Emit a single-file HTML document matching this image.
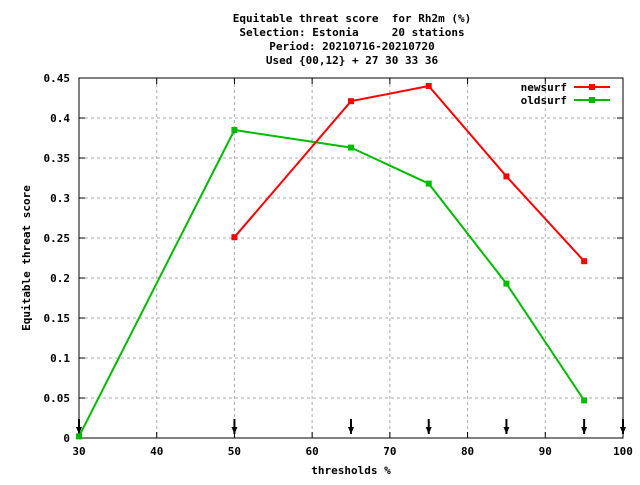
<!DOCTYPE html>
<html><head><meta charset="utf-8"><style>
html,body{margin:0;padding:0;background:#fff;}
svg text{font-family:"DejaVu Sans Mono","Liberation Mono",monospace;font-size:11px;font-weight:bold;fill:#000;white-space:pre;}
</style></head><body>
<svg id="chart" width="640" height="480" xmlns="http://www.w3.org/2000/svg" xml:space="preserve">
<g>
<text x="352" y="22" text-anchor="middle">Equitable threat score  for Rh2m (%)</text>
<text x="352" y="36" text-anchor="middle">Selection: Estonia     20 stations</text>
<text x="352" y="50" text-anchor="middle">Period: 20210716-20210720</text>
<text x="352" y="64" text-anchor="middle">Used {00,12} + 27 30 33 36</text>
</g>
<g id="grid"></g>
<g id="axes"></g>
<g id="series"></g>
<text transform="translate(30,258) rotate(-90)" text-anchor="middle">Equitable threat score</text>
<text x="351" y="474" text-anchor="middle">thresholds %</text>
<g>
<g><text x="567" y="91" text-anchor="end">newsurf</text><line x1="574" y1="87" x2="610" y2="87" stroke="#f00" stroke-width="2"/><rect x="589" y="84" width="6" height="6" fill="#f00"/></g>
<g><text x="567" y="104" text-anchor="end">oldsurf</text><line x1="574" y1="100" x2="610" y2="100" stroke="#0b0" stroke-width="2"/><rect x="589" y="97" width="6" height="6" fill="#0b0"/></g>
</g>
</svg>
<script>
const xTicks=[30,40,50,60,70,80,90,100];
const yTicks=[0,0.05,0.1,0.15,0.2,0.25,0.3,0.35,0.4,0.45];
const yTickLabels=["0","0.05","0.1","0.15","0.2","0.25","0.3","0.35","0.4","0.45"];
const newsurfX=[50,65,75,85,95];
const newsurfY=[0.251,0.421,0.44,0.327,0.221];
const oldsurfX=[30,50,65,75,85,95];
const oldsurfY=[0.002,0.385,0.363,0.318,0.193,0.047];
const arrowX=[30,50,65,75,85,95,100];
const NS="http://www.w3.org/2000/svg";
const L=79,R=623,T=78,B=438;
const sx=v=>L+(v-30)/70*(R-L);
const sy=v=>B-v/0.45*(B-T);
function mk(tag,attrs,parent){const e=document.createElementNS(NS,tag);for(const k in attrs)e.setAttribute(k,attrs[k]);parent.appendChild(e);return e;}
const grid=document.getElementById('grid'),axes=document.getElementById('axes'),ser=document.getElementById('series');
xTicks.forEach(t=>{
 if(t>30&&t<100){const g=mk('line',{x1:sx(t),x2:sx(t),y1:T,y2:B,stroke:'#aaa','stroke-dasharray':'3,3'},grid);
 
 }
 mk('line',{x1:sx(t),x2:sx(t),y1:B,y2:B-6,stroke:'#000'},axes);
 mk('line',{x1:sx(t),x2:sx(t),y1:T,y2:T+6,stroke:'#000'},axes);
 const l=mk('text',{x:sx(t),y:B+17,'text-anchor':'middle'},axes);l.textContent=t;
 
 
});
yTicks.forEach((t,i)=>{
 if(t>0&&t<0.45){const g=mk('line',{x1:L,x2:R,y1:sy(t),y2:sy(t),stroke:'#aaa','stroke-dasharray':'3,3'},grid);
 
 }
 mk('line',{x1:L,x2:L+6,y1:sy(t),y2:sy(t),stroke:'#000'},axes);
 mk('line',{x1:R,x2:R-6,y1:sy(t),y2:sy(t),stroke:'#000'},axes);
 const l=mk('text',{x:L-9,y:sy(t)+4,'text-anchor':'end'},axes);l.textContent=yTickLabels[i];
 
 
});
mk('rect',{x:L,y:T,width:R-L,height:B-T,fill:'none',stroke:'#000','stroke-width':1},axes);
arrowX.forEach(a=>{
 const g=mk('g',{},axes);
 
 
 mk('line',{x1:sx(a),x2:sx(a),y1:419,y2:434,stroke:'#000','stroke-width':2},g);
 mk('polygon',{points:`${sx(a)-3},427 ${sx(a)+3},427 ${sx(a)},434`,fill:'#000'},g);
});
function series(xs,ys,col,name){
 const g=mk('g',{},ser);
 
 
 mk('polyline',{points:xs.map((x,i)=>sx(x)+','+sy(ys[i])).join(' '),fill:'none',stroke:col,'stroke-width':2},g);
 xs.forEach((x,i)=>{const p=mk('rect',{x:sx(x)-3,y:sy(ys[i])-3,width:6,height:6,fill:col},g);
 
 });
}
series(oldsurfX,oldsurfY,'#0b0','oldsurf-series');
series(newsurfX,newsurfY,'#f00','newsurf-series');
</script>
</body></html>
